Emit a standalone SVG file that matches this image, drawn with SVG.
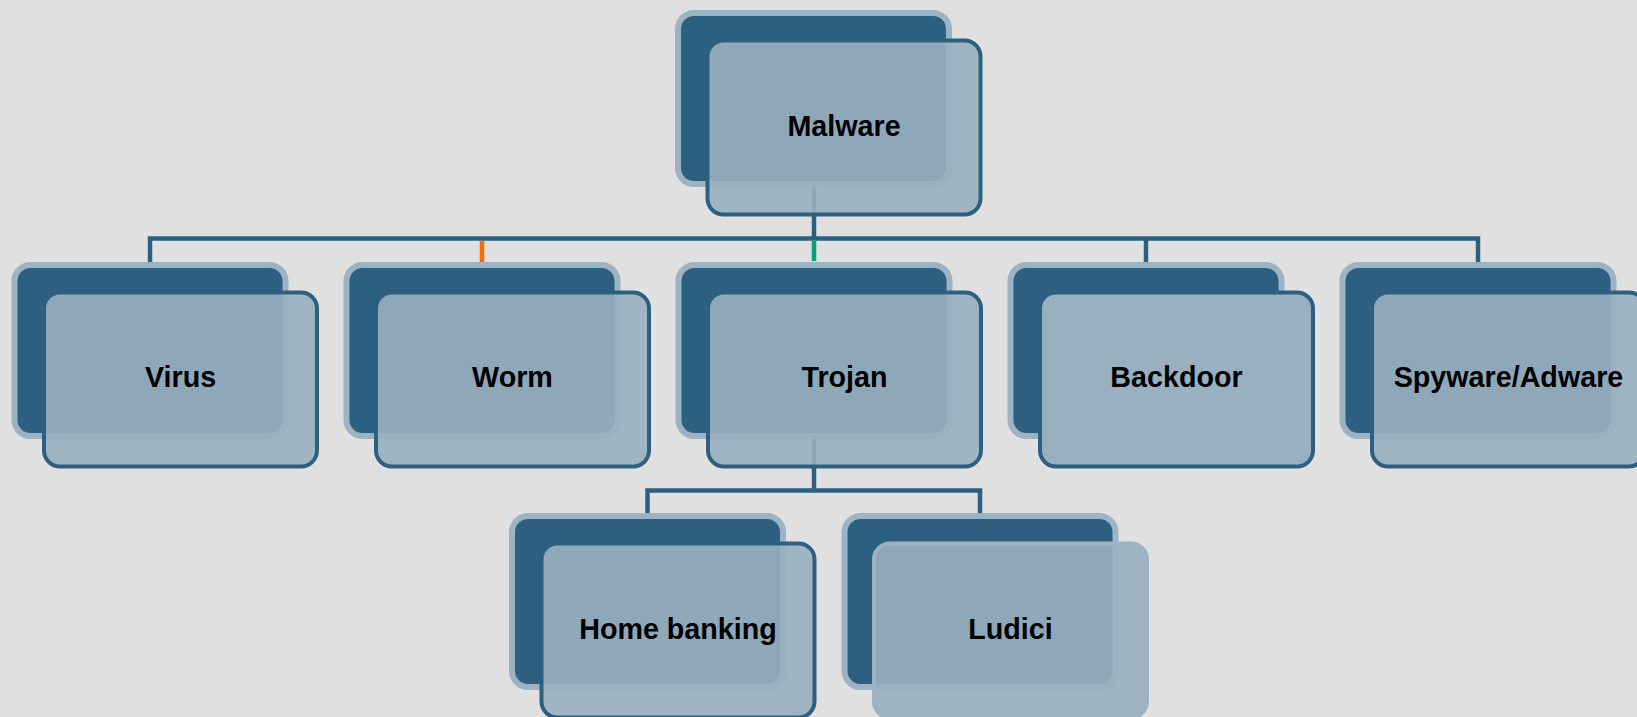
<svg xmlns="http://www.w3.org/2000/svg" width="1637" height="717" viewBox="0 0 1637 717">
  <defs>
    <style>
      .back{fill:#2d6080;stroke:#9cb3c3;stroke-width:6}
      .front{fill:#99b0c0;fill-opacity:0.9;stroke:#2d6080;stroke-width:4}
      .front.solid{fill-opacity:1}
      .front.pale{stroke:#9cb3c3}
      .label{font-family:"Liberation Sans",Arial,Helvetica,sans-serif;font-weight:bold;font-size:28.7px;fill:#000;text-anchor:middle}
      .link{fill:none;stroke:#2d6080;stroke-width:4.5;stroke-linejoin:miter}
    </style>
  </defs>

  <rect width="1637" height="717" fill="#e0e0e0"/>

  <!-- connectors -->
  <g id="connectors">
    <path class="link" d="M814 183 V238.5"/>
    <path class="link" d="M150 262 V238.5 H1478 V262"/>
    <path class="link" d="M1146 238.5 V262"/>
    <path class="link" style="stroke:#ff6a00" d="M482 240.8 V262"/>
    <path class="link" style="stroke:#00a47a" d="M814 240.8 V261"/>
    <path class="link" d="M814 435 V490.5"/>
    <path class="link" d="M647.5 513 V490.5 H980 V513"/>
  </g>

  <!-- nodes -->
  <g id="node-malware" transform="translate(675,10)">
    <rect class="back" x="3" y="3" width="271" height="171" rx="16"/>
    <rect class="front" x="32.5" y="30.5" width="273" height="174" rx="16"/>
    <text class="label" x="169" y="126">Malware</text>
  </g>

  <g id="node-virus" transform="translate(11.5,262)">
    <rect class="back" x="3" y="3" width="271" height="171" rx="16"/>
    <rect class="front" x="32.5" y="30.5" width="273" height="174" rx="16"/>
    <text class="label" x="169" y="125">Virus</text>
  </g>

  <g id="node-worm" transform="translate(343.5,262)">
    <rect class="back" x="3" y="3" width="271" height="171" rx="16"/>
    <rect class="front" x="32.5" y="30.5" width="273" height="174" rx="16"/>
    <text class="label" x="169" y="125">Worm</text>
  </g>

  <g id="node-trojan" transform="translate(675.5,262)">
    <rect class="back" x="3" y="3" width="271" height="171" rx="16"/>
    <rect class="front" x="32.5" y="30.5" width="273" height="174" rx="16"/>
    <text class="label" x="169" y="125">Trojan</text>
  </g>

  <g id="node-backdoor" transform="translate(1007.5,262)">
    <rect class="back" x="3" y="3" width="271" height="171" rx="16"/>
    <rect class="front solid" x="32.5" y="30.5" width="273" height="174" rx="16"/>
    <text class="label" x="169" y="125">Backdoor</text>
  </g>

  <g id="node-spyware" transform="translate(1339.5,262)">
    <rect class="back" x="3" y="3" width="271" height="171" rx="16"/>
    <rect class="front" x="32.5" y="30.5" width="273" height="174" rx="16"/>
    <text class="label" x="169" y="125">Spyware/Adware</text>
  </g>

  <g id="node-home-banking" transform="translate(509,513)">
    <rect class="back" x="3" y="3" width="271" height="171" rx="16"/>
    <rect class="front" x="32.5" y="30.5" width="273" height="174" rx="16"/>
    <text class="label" x="169" y="126">Home banking</text>
  </g>

  <g id="node-ludici" transform="translate(841.5,513)">
    <rect class="back" x="3" y="3" width="271" height="171" rx="16"/>
    <rect class="front pale" x="32.5" y="30.5" width="273" height="174" rx="16"/>
    <text class="label" x="169" y="126">Ludici</text>
  </g>
</svg>
